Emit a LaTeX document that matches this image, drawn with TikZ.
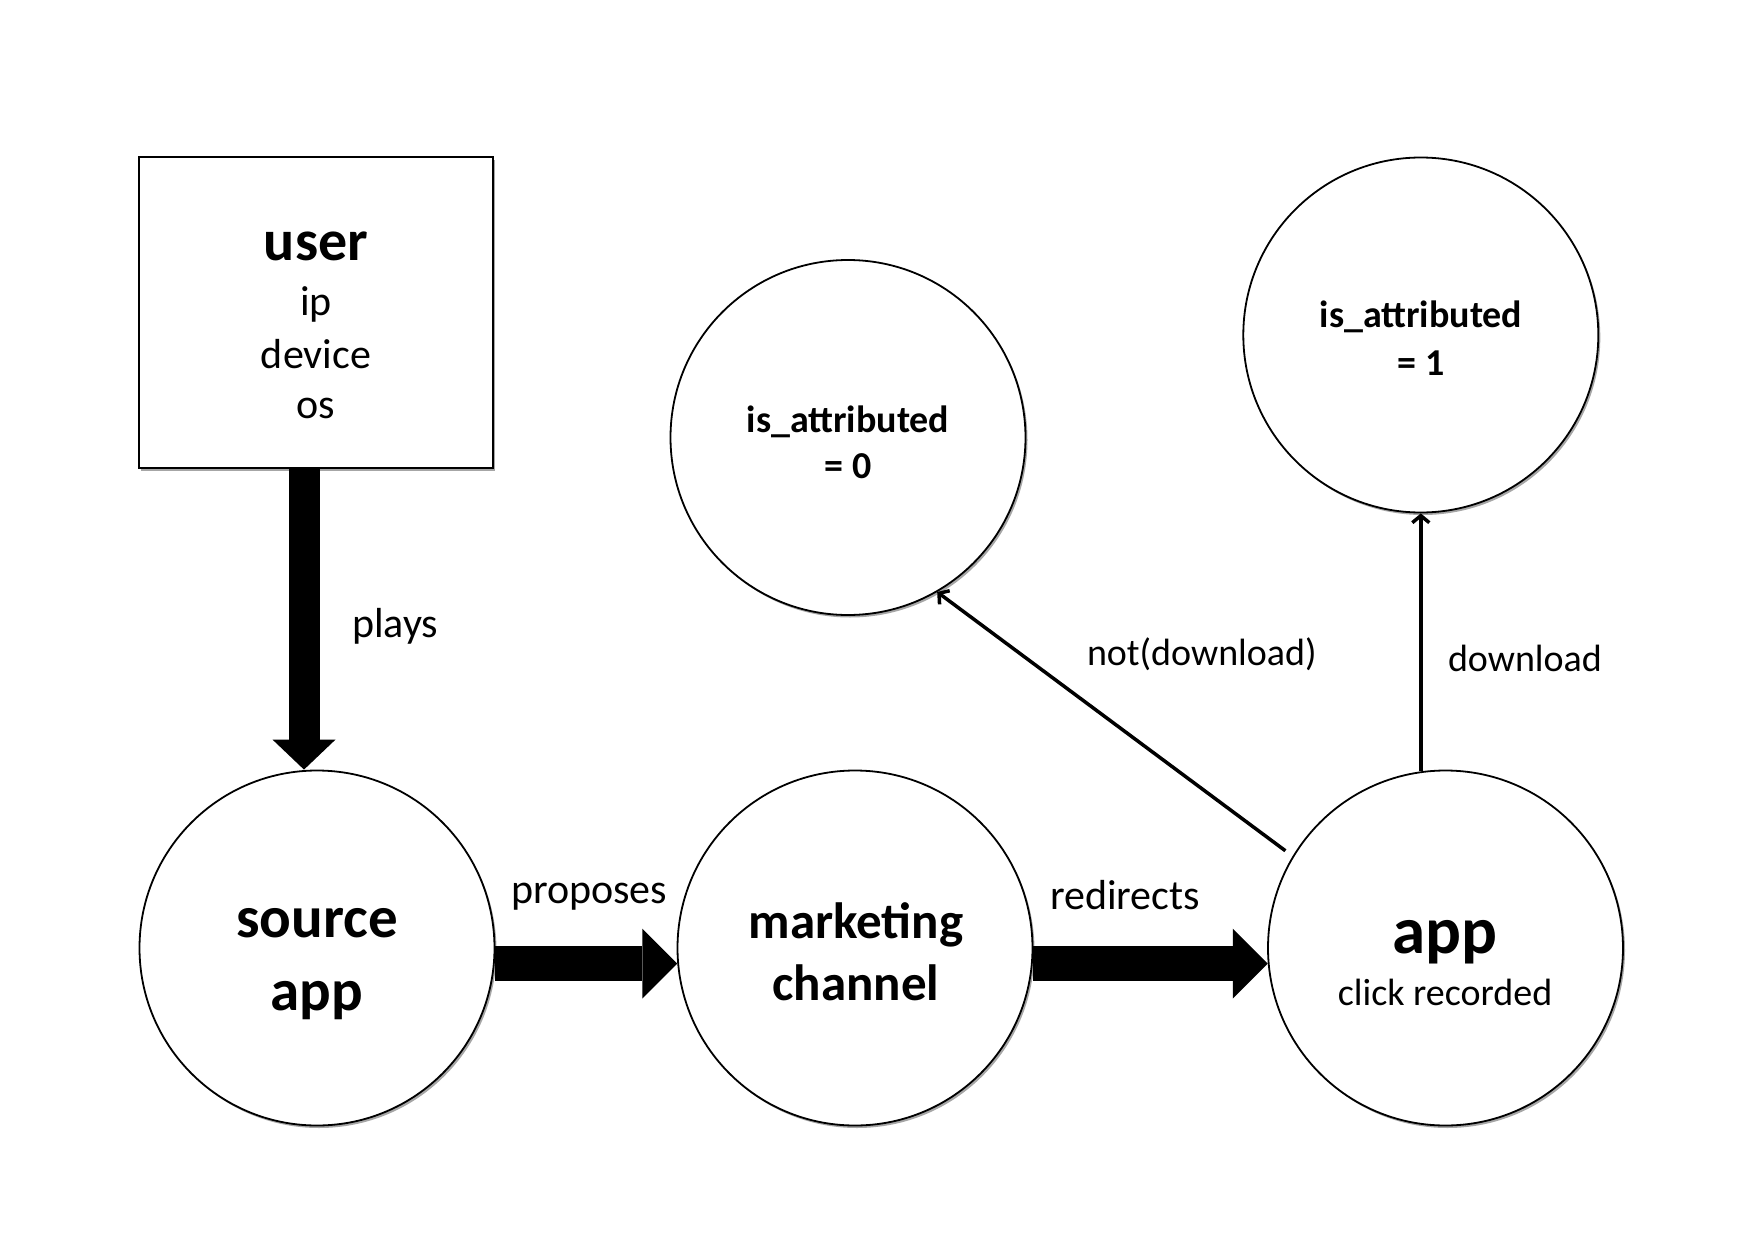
\documentclass[tikz,border=0pt]{standalone}
\usepackage{fontspec}
\setmainfont{Carlito}
\usetikzlibrary{arrows.meta,shadows,calc}
\begin{document}
\begin{tikzpicture}[x=1pt,y=-1pt,
  shapeshadow/.style={drop shadow={shadow xshift=2pt,shadow yshift=-2.5pt,opacity=0.35,fill=black}},
  circ/.style={circle,draw=black,line width=1.8pt,fill=white,minimum size=355pt,inner sep=0pt,shapeshadow},
  boxnode/.style={rectangle,draw=black,line width=1.8pt,fill=white,minimum width=354pt,minimum height=311pt,inner sep=0pt,shapeshadow},
  txt/.style={anchor=base,inner sep=0pt,outer sep=0pt},
  lbl/.style={anchor=base west,inner sep=0pt,outer sep=0pt},
  regA/.style={font=\fontsize{42}{50}\selectfont},
  regB/.style={font=\fontsize{38}{46}\selectfont},
  boldUser/.style={font=\bfseries\fontsize{58}{70}\selectfont},
  boldSrc/.style={font=\bfseries\fontsize{59}{72}\selectfont},
  boldMkt/.style={font=\bfseries\fontsize{51}{62}\selectfont},
  boldApp/.style={font=\bfseries\fontsize{67}{80}\selectfont},
  boldAttr/.style={font=\bfseries\fontsize{38}{46}\selectfont},
  fatv/.style={line width=31pt,-{Triangle[length=30pt,width=63pt,line width=0pt]}},
  fath/.style={line width=35pt,-{Triangle[length=35pt,width=70pt,line width=0pt]}},
  slimarrow/.style={line width=3.5pt,-{Straight Barb[length=7pt,width=17pt]}}
]
\fill[white] (0,0) rectangle (1754,1239);
\useasboundingbox (0,0) rectangle (1754,1239);

% shapes
\node[boxnode] (user) at (316,312.5) {};
\node[circ] (src) at (317,948) {};
\node[circ] (mkt) at (855,948) {};
\node[circ] (app) at (1445.5,948) {};
\node[circ] (a0) at (848,437.5) {};
\node[circ] (a1) at (1420.8,335) {};

% texts inside shapes
\node[txt,boldUser] (tUser) at (316,260) {user};
\node[txt,regA] (tIp) at (316,315) {ip};
\node[txt,regA] (tDev) at (316,368) {device};
\node[txt,regA] (tOs) at (316,418) {os};

\node[txt,boldSrc] (tSrcA) at (317,937) {source};
\node[txt,boldSrc] (tSrcB) at (317,1010) {app};

\node[txt,boldMkt] (tMktA) at (856,938) {marketing};
\node[txt,boldMkt] (tMktB) at (856,1000) {channel};

\node[txt,boldApp] (tAppA) at (1445,953) {app};
\node[txt,regB] (tAppB) at (1445,1005) {click recorded};

\node[txt,boldAttr] (tA0a) at (848,432) {is\_attributed};
\node[txt,boldAttr] (tA0b) at (848,478) {= 0};

\node[txt,boldAttr] (tA1a) at (1421,327) {is\_attributed};
\node[txt,boldAttr] (tA1b) at (1421,375) {= 1};

% connectors
\draw[fatv] ([xshift=-12pt]user.south) -- ([xshift=-12pt]user.south |- src.north);
\draw[fath] (src.-5.2) -- (mkt.185.2);
\draw[fath] (mkt.-5.2) -- (app.185.2);
\draw[slimarrow,shorten <=9pt] (app.149) -- (a0.-60.5);
\draw[slimarrow] (a1.south |- app.98) -- (a1.south);

% connector labels
\node[lbl,regA] (lPlays) at (352,637) {plays};
\node[lbl,regA] (lProp) at (511,903) {proposes};
\node[lbl,regA] (lRedir) at (1050,909) {redirects};
\node[lbl,regB] (lNot) at (1087,665) {not(download)};
\node[lbl,regB] (lDown) at (1448,671) {download};
\end{tikzpicture}
\end{document}
